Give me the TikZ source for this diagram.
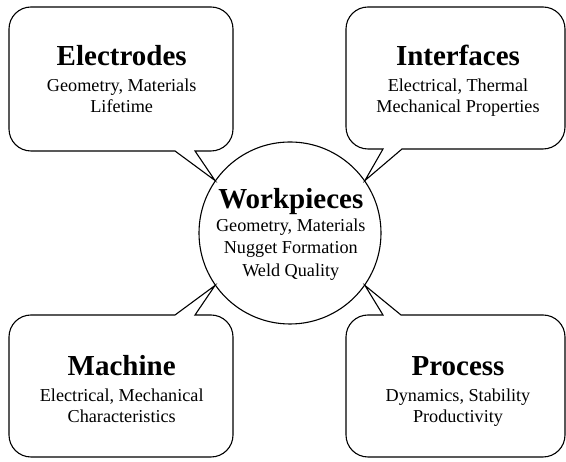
\documentclass[tikz,border=0pt]{standalone}
\usepackage{fontspec}
\setmainfont{Liberation Serif}
\tikzset{
  bubble/.style={draw=black, line width=1.1pt, fill=white, line join=miter},
  hub/.style={draw=black, circle, line width=1.1pt, minimum size=182pt, inner sep=0pt},
  head/.style={font=\fontsize{29}{29}\selectfont\bfseries, inner sep=0pt, anchor=base},
  sub/.style={font=\fontsize{18.2}{21}\selectfont, inner sep=0pt, anchor=base},
}

\begin{document}
\begin{tikzpicture}[x=1pt,y=1pt]
  \useasboundingbox (0,0) rectangle (566,462);

  % Central part
  \node[hub] (wp) at (290,229) {};

  % Pointer tips sit on the circle
  \coordinate (tipTL) at (wp.145);
  \coordinate (tipTR) at (wp.35);
  \coordinate (tipBL) at (wp.215);
  \coordinate (tipBR) at (wp.325);

  % Speech bubbles
  \draw[bubble] (tipTL) -- (195,311) [rounded corners=22pt] -- (233,311) -- (233,455)
    -- (9,455) -- (9,311) [sharp corners] -- (175,311) -- cycle;
  \draw[bubble] (tipTR) -- (383,313) [rounded corners=22pt] -- (346,313) -- (346,455)
    -- (565,455) -- (565,313) [sharp corners] -- (402,313) -- cycle;
  \draw[bubble] (tipBL) -- (195,147) [rounded corners=22pt] -- (233,147) -- (233,5)
    -- (9,5) -- (9,147) [sharp corners] -- (175,147) -- cycle;
  \draw[bubble] (tipBR) -- (383,147) [rounded corners=22pt] -- (346,147) -- (346,5)
    -- (565,5) -- (565,147) [sharp corners] -- (401,147) -- cycle;

  % Bubble texts
  \foreach \n/\cx/\cy/\ttl/\la/\lb in {
      elec/121.7/396/Electrodes/{Geometry, Materials}/Lifetime,
      intf/458/396/Interfaces/{Electrical, Thermal}/{Mechanical Properties},
      mach/121.7/86/Machine/{Electrical, Mechanical}/Characteristics,
      proc/458/86/Process/{Dynamics, Stability}/Productivity}{
    \node[head] (\n-head) at (\cx,\cy) {\ttl};
    \node[sub] (\n-a) at (\cx,\cy-25.7) {\la};
    \node[sub] (\n-b) at (\cx,\cy-46.7) {\lb};
  }

  % Circle text
  \node[head] (wp-head) at (290.8,253) {Workpieces};
  \node[sub] (wp-a) at (290.8,230) {Geometry, Materials};
  \node[sub] (wp-b) at (290.8,208) {Nugget Formation};
  \node[sub] (wp-c) at (290.8,185) {Weld Quality};
\end{tikzpicture}
\end{document}
